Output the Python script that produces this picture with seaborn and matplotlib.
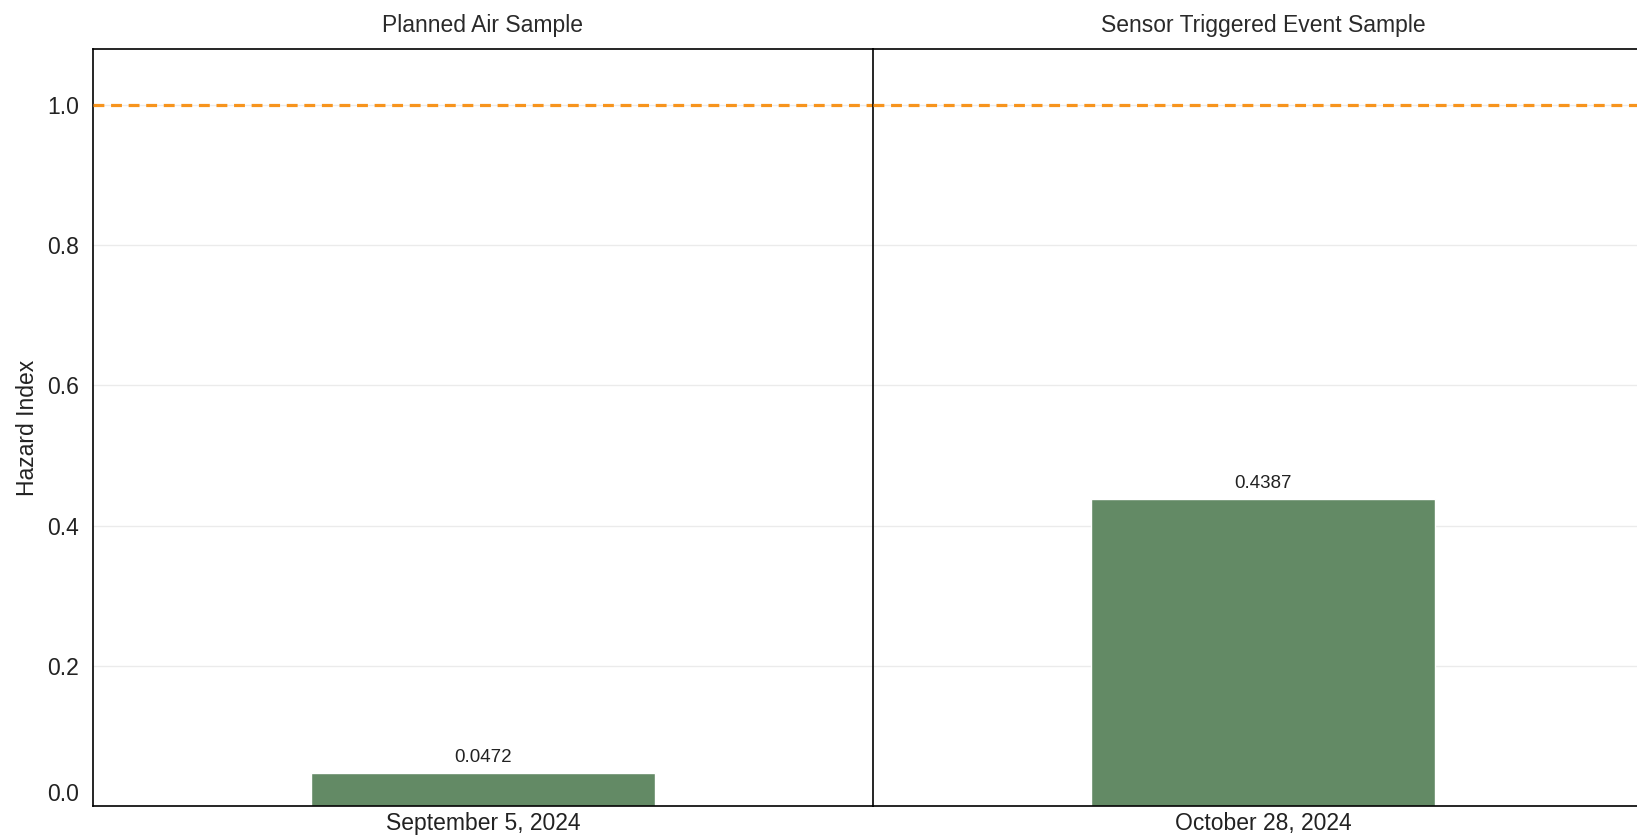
import pandas as pd
import matplotlib
matplotlib.use("Agg")
import matplotlib.pyplot as plt
import seaborn as sns

# data
sample_types = ["Planned Air Sample", "Sensor Triggered Event Sample"]
sample_dates = ["September 5, 2024", "October 28, 2024"]
hazard_index = [0.0472, 0.4387]
threshold = 1.0

df = pd.DataFrame({"type": sample_types, "date": sample_dates, "hi": hazard_index})

sns.set_style("white")
plt.rcParams["font.family"] = ["Liberation Sans", "DejaVu Sans"]

fig = plt.figure(figsize=(16.37, 8.36), dpi=100)

panel_w = 780 / 1637
lefts = [93 / 1637, 873 / 1637]
bottom = 30 / 836
height = 757 / 836

axes = []
for i, row in df.iterrows():
    ax = fig.add_axes([lefts[i], bottom, panel_w, height])
    sub = df[df["type"] == row["type"]]
    sns.barplot(data=sub, x="date", y="hi", color="#638a65", width=0.44,
                saturation=1, ax=ax)
    ax.bar_label(ax.containers[0], fmt="%.4f", padding=5, fontsize=13.5,
                 color="#222222")
    ax.axhline(threshold, color="#f7941d", lw=2.3, ls=(0, (3.4, 2.1)), zorder=3)
    ax.set_xlim(-0.5, 0.5)
    ax.set_ylim(0, 1.08)
    ax.set_yticks([0, 0.2, 0.4, 0.6, 0.8, 1.0])
    ax.yaxis.grid(True, color="#ebebeb", lw=1)
    ax.set_axisbelow(True)
    ax.set_title(row["type"], fontsize=16.5, color="#2a2a2a", pad=12)
    ax.set_xlabel("")
    ax.set_ylabel("")
    ax.tick_params(axis="x", length=0, labelsize=16.5, pad=4, colors="#222222")
    ax.tick_params(axis="y", length=0, labelsize=16.5, pad=10, colors="#222222")
    for s in ["top", "bottom", "left"]:
        ax.spines[s].set_visible(True)
        ax.spines[s].set_color("black")
        ax.spines[s].set_linewidth(1.2)
    ax.spines["right"].set_visible(False)
    if i == 0:
        ax.set_ylabel("Hazard Index", fontsize=16.5, color="#222222")
        ax.yaxis.set_major_formatter(matplotlib.ticker.FormatStrFormatter("%.1f"))
        ax.get_yticklabels()[0].set_va("bottom")
    else:
        ax.tick_params(axis="y", labelleft=False)
    axes.append(ax)

axes[0].yaxis.set_label_coords(-0.069, 0.5)

fig.savefig("out.png", dpi=100)
